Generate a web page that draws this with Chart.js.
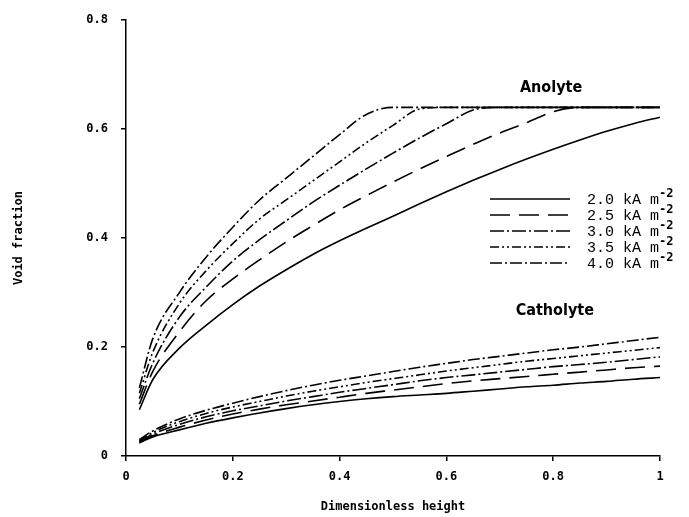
<!DOCTYPE html>
<html>
<head>
<meta charset="utf-8">
<script src="https://cdn.jsdelivr.net/npm/chart.js@4/dist/chart.umd.min.js"></script>
<style>
  body { margin: 0; background: #fff; }
  canvas { display: block; }
</style>
</head>
<body>
<canvas id="voidChart" width="689" height="517"></canvas>
<script>
// dimensionless height (shared x values)
const heights = [0.025, 0.05, 0.1, 0.15, 0.2, 0.25, 0.3, 0.35, 0.4, 0.45, 0.5,
  0.55, 0.6, 0.65, 0.7, 0.75, 0.8, 0.85, 0.9, 0.95, 1];

const densityLabels = ["2.0", "2.5", "3.0", "3.5", "4.0"];

// anolyte void fraction, one array per current density
const anolyte20 = [0.085, 0.14, 0.198, 0.24, 0.278, 0.312, 0.342, 0.37, 0.395, 0.418, 0.44,
  0.463, 0.485, 0.506, 0.526, 0.545, 0.563, 0.58, 0.596, 0.61, 0.622];
const anolyte25 = [0.095, 0.155, 0.228, 0.285, 0.325, 0.36, 0.393, 0.423, 0.452, 0.478, 0.503,
  0.527, 0.55, 0.572, 0.593, 0.612, 0.632, 0.64, 0.64, 0.64, 0.64];
const anolyte30 = [0.105, 0.17, 0.255, 0.31, 0.358, 0.397, 0.432, 0.466, 0.497, 0.527, 0.556,
  0.584, 0.61, 0.635, 0.64, 0.64, 0.64, 0.64, 0.64, 0.64, 0.64];
const anolyte35 = [0.115, 0.19, 0.28, 0.34, 0.39, 0.435, 0.47, 0.505, 0.54, 0.575, 0.607,
  0.637, 0.64, 0.64, 0.64, 0.64, 0.64, 0.64, 0.64, 0.64, 0.64];
const anolyte40 = [0.125, 0.215, 0.3, 0.365, 0.42, 0.47, 0.51, 0.55, 0.59, 0.627, 0.64,
  0.64, 0.64, 0.64, 0.64, 0.64, 0.64, 0.64, 0.64, 0.64, 0.64];

// catholyte void fraction
const catholyte20 = [0.024, 0.035, 0.048, 0.06, 0.07, 0.079, 0.087, 0.094, 0.1, 0.105, 0.109,
  0.112, 0.115, 0.119, 0.123, 0.127, 0.13, 0.134, 0.137, 0.141, 0.144];
const catholyte25 = [0.025, 0.037, 0.053, 0.066, 0.077, 0.086, 0.094, 0.101, 0.108, 0.115, 0.121,
  0.127, 0.133, 0.138, 0.142, 0.146, 0.15, 0.154, 0.158, 0.162, 0.165];
const catholyte30 = [0.027, 0.04, 0.058, 0.072, 0.083, 0.092, 0.101, 0.109, 0.117, 0.124, 0.131,
  0.138, 0.144, 0.149, 0.154, 0.159, 0.164, 0.168, 0.172, 0.177, 0.182];
const catholyte35 = [0.028, 0.043, 0.063, 0.078, 0.09, 0.1, 0.11, 0.119, 0.127, 0.135, 0.142,
  0.149, 0.156, 0.162, 0.168, 0.174, 0.179, 0.184, 0.189, 0.194, 0.199];
const catholyte40 = [0.03, 0.046, 0.068, 0.084, 0.097, 0.109, 0.12, 0.13, 0.139, 0.147, 0.155,
  0.163, 0.17, 0.177, 0.183, 0.189, 0.195, 0.2, 0.206, 0.212, 0.218];

const anolyteSeries = [anolyte20, anolyte25, anolyte30, anolyte35, anolyte40];
const catholyteSeries = [catholyte20, catholyte25, catholyte30, catholyte35, catholyte40];

// line style per current density
const dashes = [[], [20, 9], [14, 3, 2, 3], [9, 3, 2, 3, 2, 3], [12, 3, 2, 3]];

const monoBold = { family: "'DejaVu Sans Mono', monospace", size: 12, weight: "bold" };

function toPoints(ys) {
  return ys.map((y, i) => ({ x: heights[i], y: y }));
}

// 0, 0.2 ... 1 (no trailing zeros)
function tickText(value) {
  return String(Math.round(value * 10) / 10);
}

const datasets = [];
densityLabels.forEach((d, i) => {
  datasets.push({
    label: "Anolyte " + d,
    data: toPoints(anolyteSeries[i]),
    borderColor: "#000",
    borderWidth: 1.6,
    borderDash: dashes[i],
    pointRadius: 0,
    cubicInterpolationMode: "monotone",
  });
  datasets.push({
    label: "Catholyte " + d,
    data: toPoints(catholyteSeries[i]),
    borderColor: "#000",
    borderWidth: 1.6,
    borderDash: dashes[i],
    pointRadius: 0,
    cubicInterpolationMode: "monotone",
  });
});

// legend box + curve labels drawn straight onto the canvas
const annotations = {
  id: "annotations",
  afterDatasetsDraw(chart) {
    const ctx = chart.ctx;
    const xs = chart.scales.x;
    const ys = chart.scales.y;
    ctx.save();
    ctx.fillStyle = "#000";
    ctx.strokeStyle = "#000";

    ctx.font = "bold 16px 'DejaVu Sans Condensed', 'DejaVu Sans', sans-serif";
    ctx.textAlign = "center";
    ctx.textBaseline = "middle";
    ctx.fillText("Anolyte", xs.getPixelForValue(0.796), ys.getPixelForValue(0.675));
    ctx.fillText("Catholyte", xs.getPixelForValue(0.803), ys.getPixelForValue(0.267));

    const lineX0 = 490, lineX1 = 570, top = 199, rowH = 16;
    densityLabels.forEach((d, i) => {
      const y = top + i * rowH;
      ctx.lineWidth = 1.6;
      ctx.setLineDash(dashes[i]);
      ctx.beginPath();
      ctx.moveTo(lineX0, y);
      ctx.lineTo(lineX1, y);
      ctx.stroke();
      ctx.setLineDash([]);
      ctx.textAlign = "left";
      ctx.font = "15px 'Liberation Mono', 'Courier New', monospace";
      const txt = d + " kA m";
      ctx.fillText(txt, 587, y + 1);
      const w = ctx.measureText(txt).width;
      ctx.font = "bold 12px 'DejaVu Sans Mono', monospace";
      ctx.fillText("-2", 587 + w, y - 5);
    });
    ctx.restore();
  },
};

new Chart(document.getElementById("voidChart"), {
  type: "line",
  data: { datasets: datasets },
  plugins: [annotations],
  options: {
    responsive: false,
    animation: false,
    layout: { padding: { top: 13, right: 29, left: 0, bottom: 0 } },
    plugins: {
      legend: { display: false },
      tooltip: { enabled: false },
    },
    scales: {
      x: {
        type: "linear",
        min: 0,
        max: 1,
        afterFit: (scale) => { scale.height = 61; },
        ticks: { stepSize: 0.2, color: "#000", font: monoBold, padding: 9, maxRotation: 0, callback: tickText },
        grid: { drawOnChartArea: false, tickLength: 5, color: "#000", lineWidth: 1.5 },
        border: { color: "#000", width: 1.5 },
        title: {
          display: true,
          text: "Dimensionless height",
          color: "#000",
          font: monoBold,
          padding: { top: 0, bottom: 3 },
        },
      },
      y: {
        min: 0,
        max: 0.8,
        afterFit: (scale) => { scale.width = 126; },
        ticks: { stepSize: 0.2, color: "#000", font: monoBold, padding: 13, callback: tickText },
        grid: { drawOnChartArea: false, tickLength: 5, color: "#000", lineWidth: 1.5 },
        border: { color: "#000", width: 1.5 },
        title: {
          display: true,
          text: "Void fraction",
          color: "#000",
          font: monoBold,
          padding: { top: 12, bottom: 0 },
        },
      },
    },
  },
});
</script>
</body>
</html>
